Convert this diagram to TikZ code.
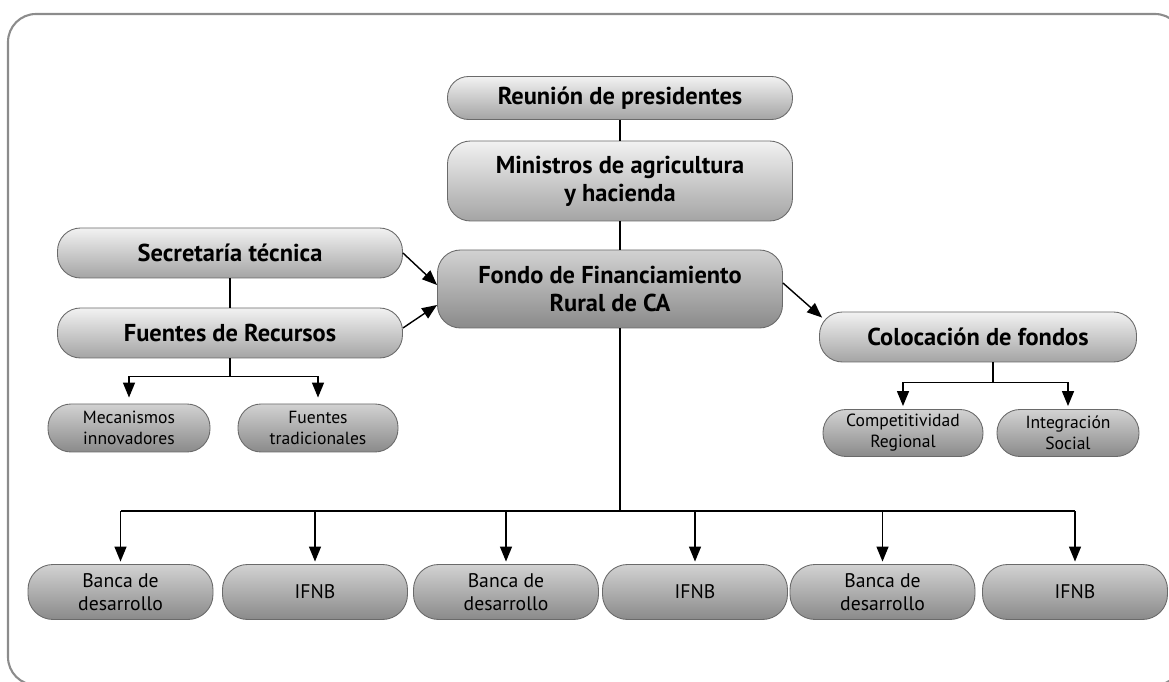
\documentclass[tikz,border=0pt]{standalone}
\usepackage{fontspec}
\setmainfont{PT Sans}
\usepackage{tikz}
\usetikzlibrary{arrows.meta}

\definecolor{framegray}{HTML}{8C8C8C}
\definecolor{rimgray}{HTML}{6A6A6A}
\definecolor{lighttop}{HTML}{F2F2F2}
\definecolor{lightmid}{HTML}{E0E0E0}
\definecolor{lightbot}{HTML}{A4A4A4}
\definecolor{darktop}{HTML}{D2D2D2}
\definecolor{darkmid}{HTML}{C0C0C0}
\definecolor{darkbot}{HTML}{8A8A8A}

\tikzset{
    upperbox/.style = {draw=rimgray, line width=0.5pt, rounded corners=0.46cm,
        top color=lighttop, middle color=lightmid, bottom color=lightbot,
        align=center, inner sep=0pt, font=\bfseries\fontsize{13.9}{16}\selectfont},
    centralbox/.style = {upperbox, top color=darktop, middle color=darkmid, bottom color=darkbot},
    lowerbox/.style = {upperbox, top color=darktop, middle color=darkmid, bottom color=darkbot,
        font=\fontsize{10}{12}\selectfont},
    bottombox/.style = {lowerbox, rounded corners=0.5cm, font=\fontsize{11.2}{13}\selectfont},
    link/.style = {line width=0.8pt},
    arrow/.style = {link, -{Triangle[length=0.3cm, width=0.24cm]}},
}

\begin{document}
\begin{tikzpicture}
    \useasboundingbox (0, 0) rectangle (23.38, 13.62);
    \clip (0, 0) rectangle (23.38, 13.62);
    % frame
    \draw[framegray, line width=1.2pt, rounded corners=0.56cm]
        (0.16, -0.08) rectangle (23.66, 13.34);

    % centre column
    \node[upperbox, rounded corners=0.42cm, minimum width=6.9cm, minimum height=0.86cm] (reunion) at (12.40, 11.66) {Reunión de presidentes};
    \node[upperbox, minimum width=6.9cm, minimum height=1.6cm] (ministros) at (12.40, 10.00) {Ministros de agricultura\\y hacienda};
    \node[centralbox, minimum width=6.9cm, minimum height=1.56cm] (fondo) at (12.20, 7.84) {Fondo de Financiamiento\\Rural de CA};

    % left branch
    \node[upperbox, minimum width=6.9cm, minimum height=1.0cm] (secretaria) at (4.60, 8.56) {Secretaría técnica};
    \node[upperbox, minimum width=6.9cm, minimum height=1.0cm] (fuentes) at (4.60, 6.96) {Fuentes de Recursos};
    \node[lowerbox, minimum width=3.24cm, minimum height=0.96cm] (mecanismos) at (2.58, 5.06) {Mecanismos\\innovadores};
    \node[lowerbox, minimum width=3.2cm, minimum height=0.96cm] (tradicionales) at (6.36, 5.06) {Fuentes\\tradicionales};

    % right branch
    \node[upperbox, minimum width=6.34cm, minimum height=1.0cm] (colocacion) at (19.56, 6.88) {Colocación de fondos};
    \node[lowerbox, minimum width=3.2cm, minimum height=0.94cm] (competitividad) at (18.06, 4.96) {Competitividad\\Regional};
    \node[lowerbox, minimum width=2.84cm, minimum height=0.94cm] (integracion) at (21.36, 4.96) {Integración\\Social};

    % bottom row
    \foreach \x/\name/\txt in {2.41/bancaA/{Banca de\\desarrollo}, 6.30/ifnbA/IFNB,
                               10.12/bancaB/{Banca de\\desarrollo}, 13.90/ifnbB/IFNB,
                               17.65/bancaC/{Banca de\\desarrollo}, 21.50/ifnbC/IFNB}
        \node[bottombox, minimum width=3.7cm, minimum height=1.1cm] (\name) at (\x, 1.78) {\txt};

    % connectors
    \draw[link] (reunion) -- (ministros);
    \draw[link] (ministros.south) -- (ministros.south |- fondo.north);
    \coordinate (split) at (12.40, 3.40);
    \draw[link] (fondo.south -| split) -- (split);
    \draw[link] (split -| bancaA.north) -- (split -| ifnbC.north);
    \foreach \name in {bancaA, ifnbA, bancaB, ifnbB, bancaC, ifnbC}
        \draw[arrow] (split -| \name.north) -- ([yshift=0.05cm]\name.north);

    \draw[link] (secretaria) -- (fuentes);
    \draw[arrow] (secretaria.east) -- ([yshift=0.08cm]fondo.west);
    \draw[arrow] ([yshift=0.1cm]fuentes.east) -- ([yshift=-0.32cm]fondo.west);
    \coordinate (fuentessplit) at ([yshift=-0.36cm]fuentes.south);
    \draw[link] (fuentes.south) -- (fuentessplit);
    \draw[link] (fuentessplit -| mecanismos.north) -- (fuentessplit -| tradicionales.north);
    \draw[arrow] (fuentessplit -| mecanismos.north) -- ([yshift=0.12cm]mecanismos.north);
    \draw[arrow] (fuentessplit -| tradicionales.north) -- ([yshift=0.12cm]tradicionales.north);

    \draw[arrow] ([yshift=0.12cm]fondo.east) -- ([xshift=0.06cm, yshift=-0.12cm]colocacion.north west);
    \coordinate (colocsplit) at ([xshift=0.3cm, yshift=-0.4cm]colocacion.south);
    \draw[link] (colocsplit |- colocacion.south) -- (colocsplit);
    \draw[link] (colocsplit -| competitividad.north) -- (colocsplit -| integracion.north);
    \draw[arrow] (colocsplit -| competitividad.north) -- ([yshift=0.06cm]competitividad.north);
    \draw[arrow] (colocsplit -| integracion.north) -- ([yshift=0.06cm]integracion.north);
\end{tikzpicture}
\end{document}
